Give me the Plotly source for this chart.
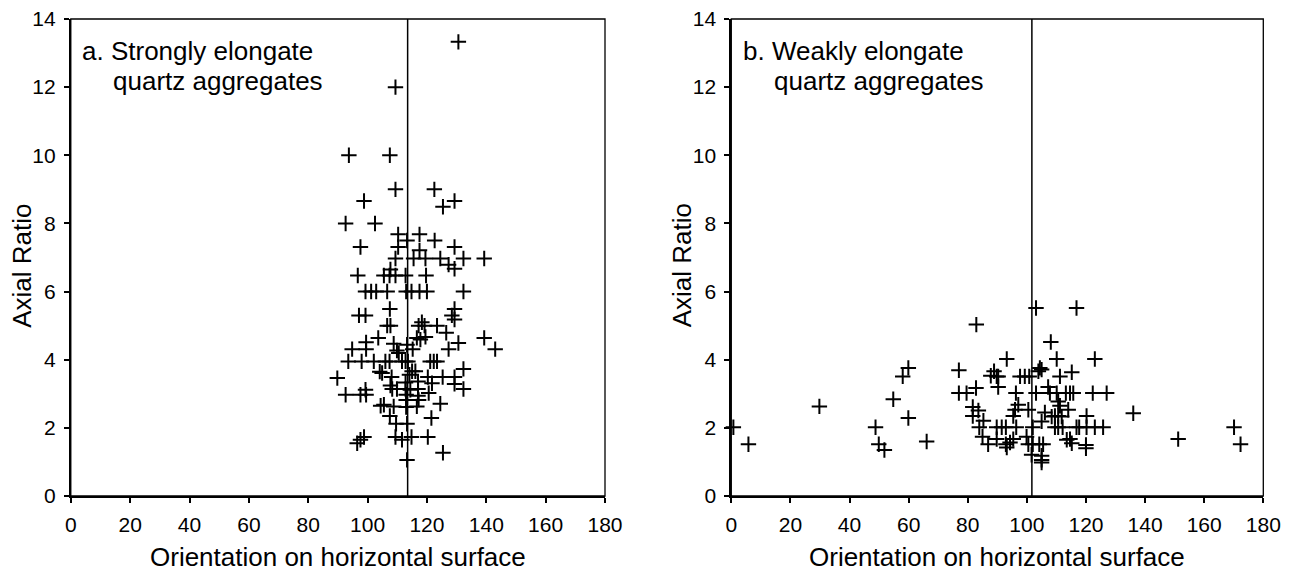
import plotly.graph_objects as go

# ---------------- data ----------------
# a. Strongly elongate quartz aggregates
left_orientation = [
    130.6, 109.4, 93.7, 107.5, 109.4, 122.5, 98.8, 125.4, 129.3, 92.6,
    102.5, 110.3, 113.3, 117.5, 122.6, 97.6, 110.3, 117.5, 129.3, 109.4,
    115.5, 119.5, 124.5, 127.3, 132.3, 139.3, 129.3, 107.7, 96.7, 105.5,
    107.4, 109.4, 112.8, 119.7, 99.3, 101.2, 102.9, 106.6, 113.0, 114.8,
    117.5, 120.0, 132.3, 107.5, 129.3, 97.1, 99.3, 128.4, 129.3, 106.6,
    107.7, 117.2, 118.3, 119.2, 123.4, 126.5, 116.6, 117.8, 119.5, 139.3,
    143.0, 130.6, 103.6, 94.8, 99.5, 99.5, 108.8, 109.9, 113.3, 115.2,
    110.5, 127.3, 93.5, 98.0, 102.1, 106.0, 107.4, 111.6, 112.8, 113.6,
    121.1, 122.3, 123.4, 132.3, 104.1, 104.9, 115.0, 116.1, 114.1, 89.8,
    108.1, 120.3, 125.3, 129.3, 112.8, 117.0, 121.7, 129.3, 132.3, 107.7,
    108.3, 109.9, 112.8, 114.4, 117.0, 120.6, 92.6, 97.6, 99.3, 99.5,
    113.0, 117.0, 117.2, 113.0, 104.4, 105.5, 108.8, 113.0, 116.6, 124.5,
    107.5, 121.5, 109.6, 113.3, 98.8, 97.6, 96.5, 109.4, 111.6, 114.8,
    120.3, 125.4, 113.3,
]
left_ratio = [
    13.33, 12.0, 10.0, 10.0, 9.0, 9.0, 8.66, 8.49, 8.66, 8.0,
    8.0, 7.68, 7.5, 7.68, 7.5, 7.31, 7.31, 7.21, 7.31, 6.97,
    6.97, 6.97, 6.97, 6.79, 6.97, 6.97, 6.67, 6.65, 6.47, 6.47,
    6.47, 6.47, 6.47, 6.47, 6.0, 6.0, 6.0, 6.0, 6.0, 6.0,
    6.0, 6.0, 6.0, 5.49, 5.49, 5.30, 5.30, 5.30, 5.18, 5.0,
    5.0, 5.0, 5.10, 5.0, 5.0, 4.79, 4.64, 4.59, 4.67, 4.64,
    4.31, 4.49, 4.64, 4.31, 4.51, 4.31, 4.47, 4.27, 4.44, 4.31,
    4.20, 4.31, 3.95, 3.95, 3.95, 3.95, 3.95, 3.95, 3.95, 3.95,
    3.95, 3.95, 3.95, 3.73, 3.65, 3.61, 3.66, 3.66, 3.56, 3.46,
    3.49, 3.49, 3.49, 3.49, 3.33, 3.36, 3.31, 3.29, 3.14, 3.24,
    3.14, 3.14, 3.14, 3.12, 3.14, 3.02, 2.97, 2.97, 3.12, 2.97,
    2.97, 2.94, 2.82, 2.82, 2.65, 2.68, 2.63, 2.61, 2.63, 2.71,
    2.35, 2.29, 2.12, 2.12, 1.73, 1.65, 1.55, 1.73, 1.65, 1.73,
    1.73, 1.27, 1.06,
]
left_reference_orientation = 113.5

# b. Weakly elongate quartz aggregates
right_orientation = [
    0.7, 5.8, 29.8, 48.8, 49.9, 51.8, 54.8, 59.9, 58.0, 59.9,
    66.1, 77.0, 77.0, 79.6, 82.8, 82.9, 81.7, 83.6, 81.7, 85.3,
    83.9, 85.0, 86.9, 87.8, 88.9, 89.8, 90.3, 90.3, 89.8, 89.8,
    103.1, 116.8, 108.1, 93.2, 110.1, 123.0, 97.7, 99.3, 100.8, 104.4,
    105.0, 103.9, 111.2, 115.2, 96.3, 103.1, 107.2, 107.8, 110.1, 113.2,
    114.6, 115.7, 122.3, 127.0, 110.6, 111.2, 114.0, 97.1, 96.0, 95.4,
    100.5, 106.1, 105.0, 109.5, 110.6, 108.4, 111.8, 120.2, 136.0,
    91.5, 92.9, 96.4, 102.0, 109.5, 110.6, 112.1, 116.8, 117.7, 120.2,
    123.0, 125.8, 170.1, 151.2, 172.3, 92.9, 94.3, 95.4, 93.2, 99.9,
    100.5, 102.0, 104.2, 105.5, 101.6, 105.0, 105.0, 105.0, 113.5, 114.6,
    115.2, 120.0, 120.0,
]
right_ratio = [
    2.02, 1.52, 2.63, 2.02, 1.52, 1.35, 2.84, 2.29, 3.51, 3.76,
    1.60, 3.69, 3.02, 3.02, 3.17, 5.03, 2.61, 2.51, 2.35, 2.21,
    2.02, 1.74, 1.52, 3.53, 3.66, 3.51, 3.51, 3.20, 2.02, 1.67,
    5.52, 5.52, 4.52, 4.02, 4.02, 4.02, 3.51, 3.51, 3.51, 3.76,
    3.71, 3.66, 3.51, 3.63, 3.02, 3.02, 3.20, 3.02, 3.02, 3.02,
    3.02, 3.02, 3.02, 3.02, 2.77, 2.65, 2.53, 2.68, 2.53, 2.35,
    2.53, 2.45, 2.19, 2.35, 2.35, 2.33, 2.33, 2.35, 2.43,
    2.02, 2.02, 2.02, 2.02, 2.02, 2.02, 2.02, 2.02, 2.02, 2.02,
    2.02, 2.02, 2.02, 1.67, 1.52, 1.52, 1.57, 1.67, 1.42, 1.74,
    1.52, 1.52, 1.52, 1.52, 1.21, 1.18, 1.06, 0.98, 1.65, 1.67,
    1.55, 1.50, 1.40,
]
right_reference_orientation = 101.7

x_ticks = [0, 20, 40, 60, 80, 100, 120, 140, 160, 180]
y_ticks = [0, 2, 4, 6, 8, 10, 12, 14]
panel_labels = [["a. Strongly elongate", "quartz aggregates"],
                ["b. Weakly elongate", "quartz aggregates"]]
x_title = "Orientation on horizontal surface"
y_title = "Axial Ratio"

# ---------------- figure ----------------
# the page body has an 8px margin, so the figure is offset by 8px
OFF = 8
W, H = 1291 - OFF, 573 - OFF
FONT = "Liberation Sans, Arial, Helvetica, sans-serif"


def px(v):
    return (v - OFF) / W


def py(v):
    return 1 - (v - OFF) / H


fig = go.Figure()

marker = dict(symbol="cross-thin", size=11, color="black",
              line=dict(color="black", width=2))

fig.add_trace(go.Scatter(x=left_orientation, y=left_ratio, mode="markers",
                         marker=marker, xaxis="x", yaxis="y",
                         cliponaxis=False, showlegend=False))
fig.add_trace(go.Scatter(x=right_orientation, y=right_ratio, mode="markers",
                         marker=marker, xaxis="x2", yaxis="y2",
                         cliponaxis=False, showlegend=False))

# vertical reference lines
fig.add_trace(go.Scatter(x=[left_reference_orientation] * 2, y=[0, 14],
                         mode="lines", line=dict(color="black", width=1.5),
                         xaxis="x", yaxis="y", showlegend=False))
fig.add_trace(go.Scatter(x=[right_reference_orientation] * 2, y=[0, 14],
                         mode="lines", line=dict(color="black", width=1.5),
                         xaxis="x2", yaxis="y2", showlegend=False))

# panel edges in page pixels
L0, L1 = 70.8, 605.0
R0, R1 = 731.3, 1263.3
YB, YT = 496.0, 19.0
left_dom = [px(L0), px(L1)]
right_dom = [px(R0), px(R1)]
y_dom = [py(YB), py(YT)]

tickfont = dict(family=FONT, size=21, color="black")
common_x = dict(range=[0, 180], tickvals=x_ticks, showline=True, linecolor="black",
                linewidth=2, mirror=False, ticks="outside", ticklen=5, tickwidth=2,
                tickcolor="black", showgrid=False, zeroline=False, automargin=False,
                ticklabelstandoff=4, ticklabeloverflow="allow", tickfont=tickfont)
common_y = dict(range=[0, 14], tickvals=y_ticks, showline=True, linecolor="black",
                linewidth=2, mirror=False, ticks="outside", ticklen=5, tickwidth=2,
                tickcolor="black", showgrid=False, zeroline=False, automargin=False,
                ticklabelstandoff=4, ticklabeloverflow="allow", tickfont=tickfont)

fig.update_layout(
    width=W, height=H,
    margin=dict(l=0, r=0, t=0, b=0, autoexpand=False),
    paper_bgcolor="white", plot_bgcolor="white",
    xaxis=dict(domain=left_dom, anchor="y", **common_x),
    yaxis=dict(domain=y_dom, anchor="x", **common_y),
    xaxis2=dict(domain=right_dom, anchor="y2", **common_x),
    yaxis2=dict(domain=y_dom, anchor="x2", **common_y),
)

# thin frame around each panel
for xr, yr in (("x", "y"), ("x2", "y2")):
    fig.add_shape(type="rect", xref=f"{xr} domain", yref=f"{yr} domain",
                  x0=0, x1=1, y0=0, y1=1, line=dict(color="black", width=1.3),
                  layer="above")

title_font = dict(family=FONT, size=26, color="black")
# axis titles
for x0, x1 in ((L0, L1), (R0, R1)):
    fig.add_annotation(text=x_title, x=px((x0 + x1) / 2), y=py(557),
                       xref="paper", yref="paper", xanchor="center", yanchor="middle",
                       showarrow=False, font=title_font)
    fig.add_annotation(text=y_title, x=px(x0 - 48.5), y=py(265.5),
                       xref="paper", yref="paper", xanchor="center", yanchor="middle",
                       textangle=-90, showarrow=False, font=title_font)

# panel labels
ann_font = dict(family=FONT, size=26, color="black")
for x0, (l1, l2) in zip((L0, R0), panel_labels):
    fig.add_annotation(text=l1, x=px(x0 + 9.5), y=py(51.5), xref="paper", yref="paper",
                       xanchor="left", yanchor="middle", showarrow=False, font=ann_font)
    fig.add_annotation(text=l2, x=px(x0 + 40.5), y=py(81), xref="paper", yref="paper",
                       xanchor="left", yanchor="middle", showarrow=False, font=ann_font)

fig.write_html("out.html")
